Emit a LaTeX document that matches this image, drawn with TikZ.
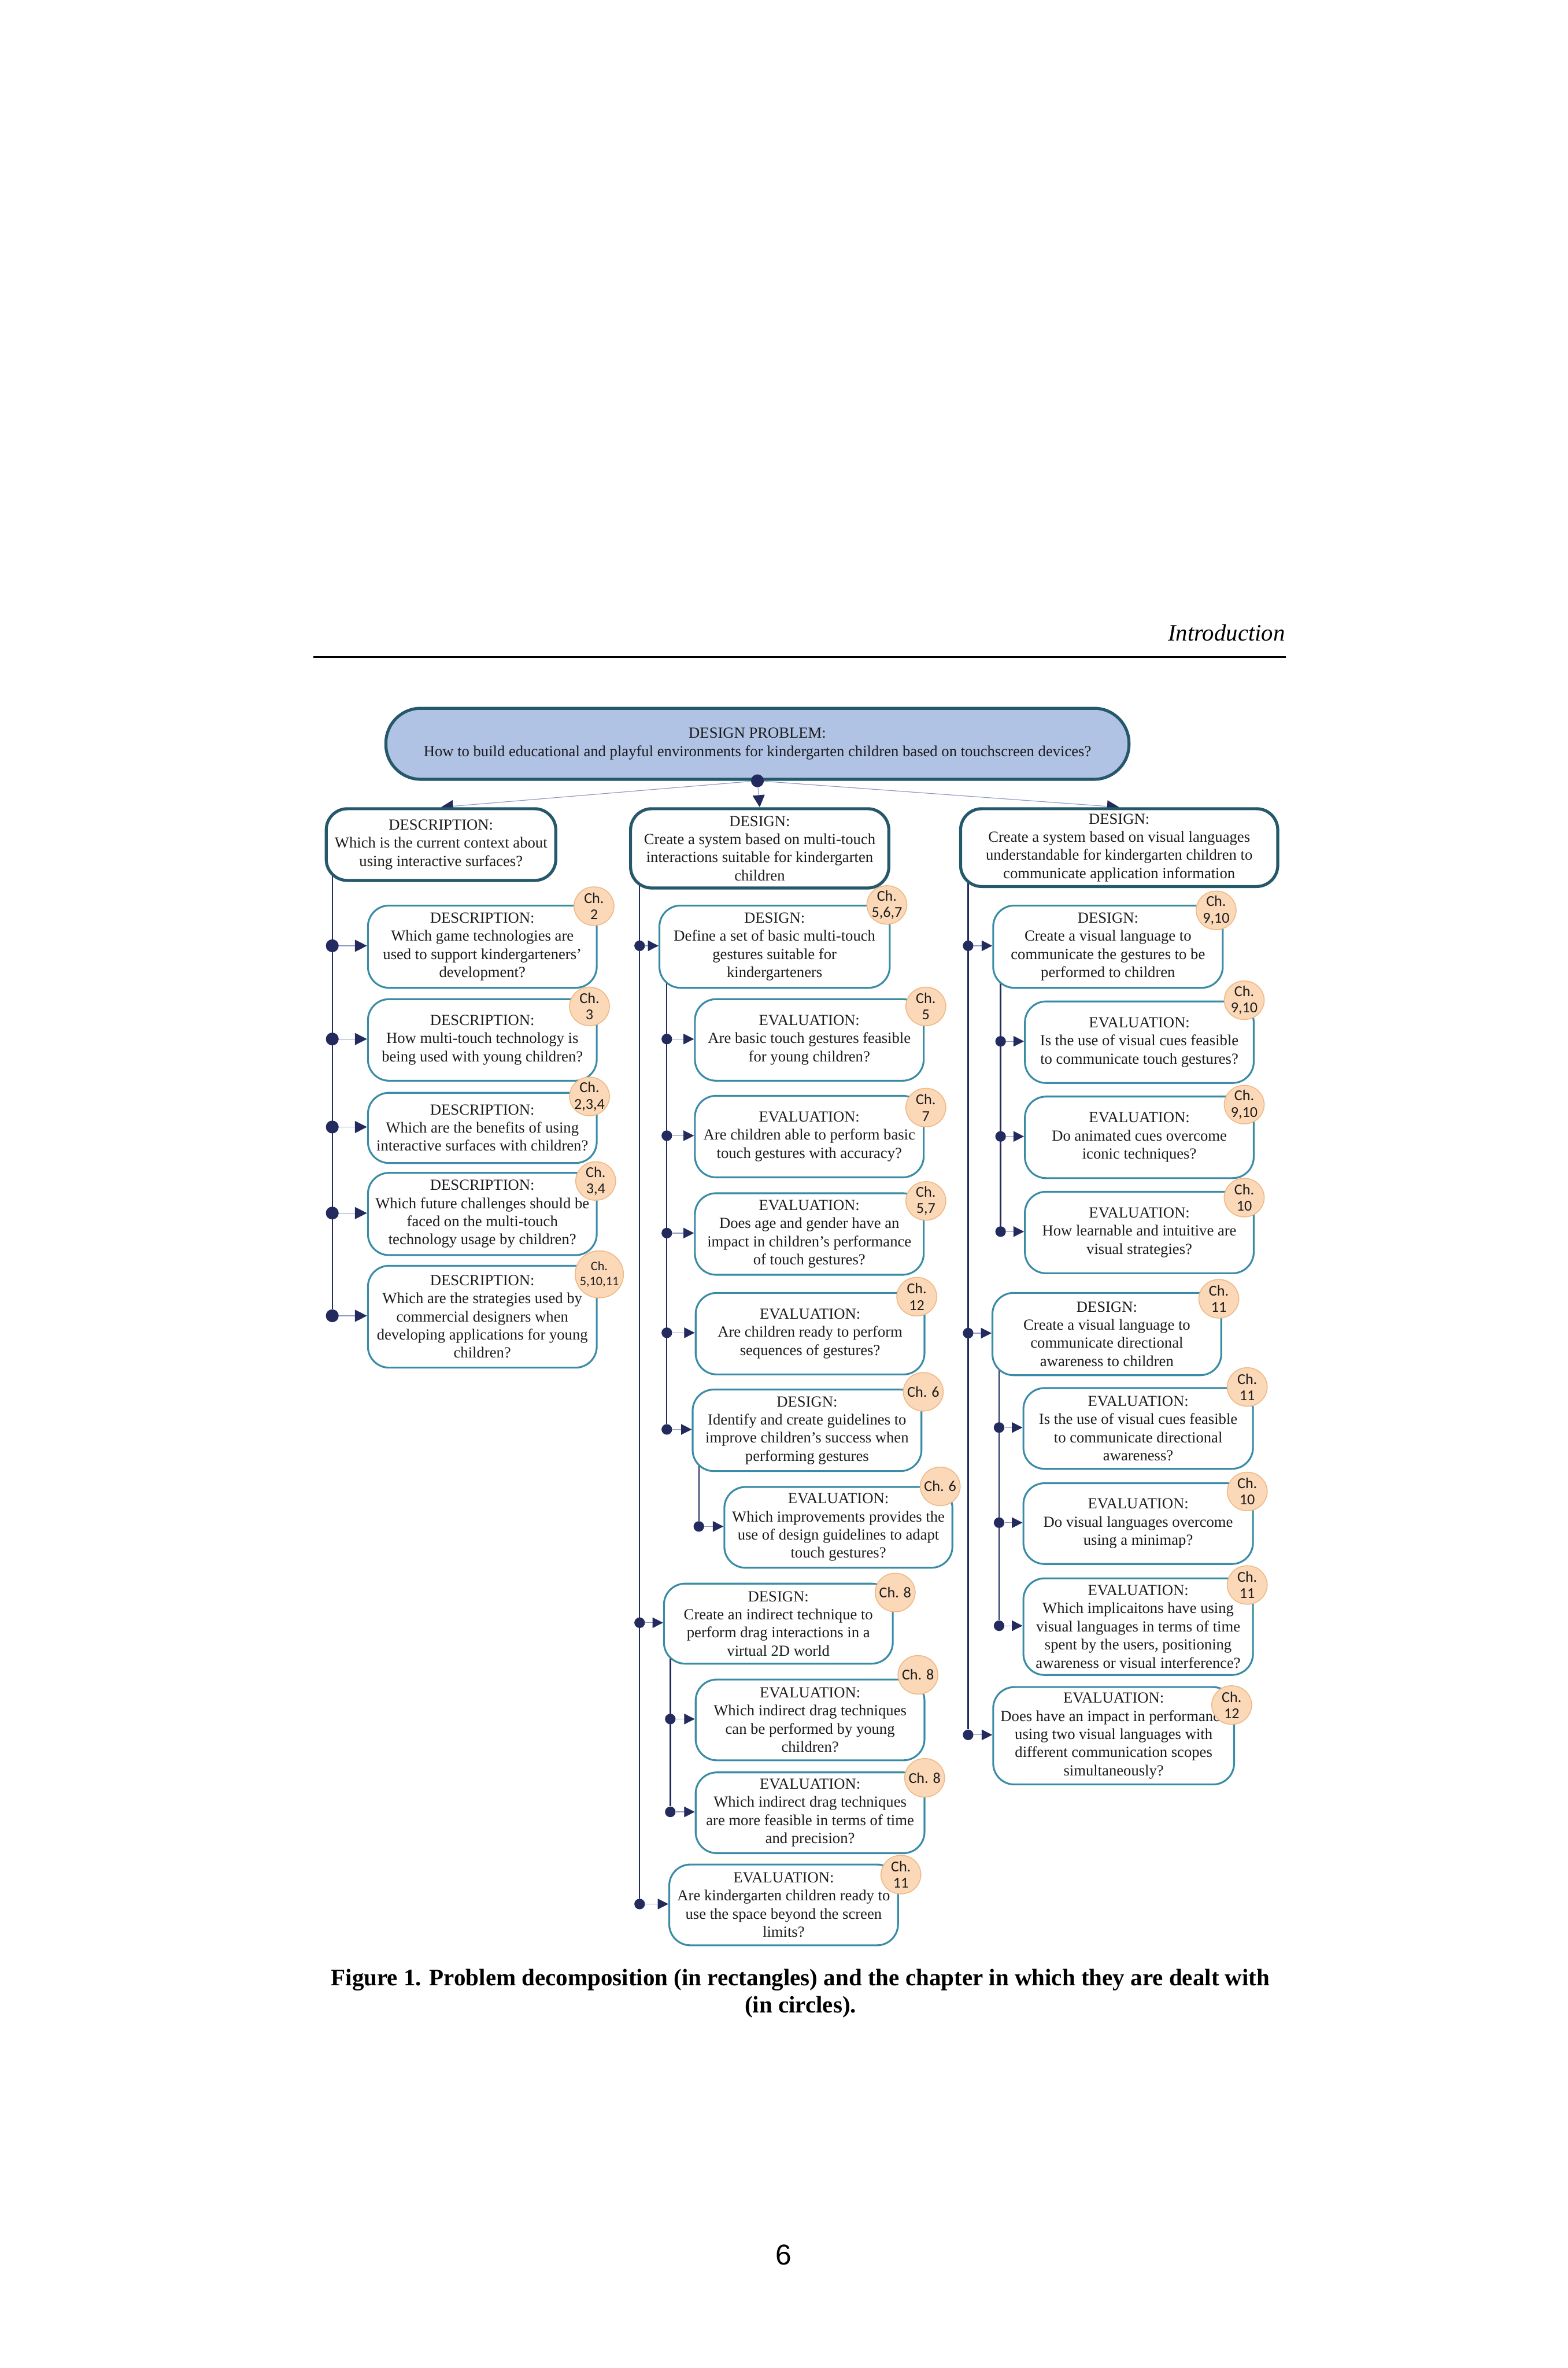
\documentclass[tikz,border=0pt]{standalone}
\usepackage{fontspec}
\setmainfont{Liberation Serif}
\setsansfont{Liberation Sans}
\newfontfamily\chapfont{Carlito}
\usepackage{tikz}
\usetikzlibrary{arrows.meta,backgrounds}
\definecolor{LinkNavy}{HTML}{232B5E}
\definecolor{LinkPale}{HTML}{8E99BE}
\definecolor{FrameDark}{HTML}{24586A}
\definecolor{FrameTeal}{HTML}{3A8BA6}
\definecolor{ProblemFill}{HTML}{B1C3E5}
\definecolor{ChapFill}{HTML}{FAD8B8}
\definecolor{ChapLine}{HTML}{F0B985}
\definecolor{TextDark}{HTML}{1C1C1C}

\begin{document}
\begin{tikzpicture}[x=1pt,y=-1pt,
    every node/.style={font=\fontsize{10.2}{12}\selectfont, text=TextDark},
    qbox/.style={draw=FrameTeal, line width=1.2pt, fill=white, rounded corners=14pt,
      align=center, inner sep=1pt, anchor=north west, minimum width=151.5pt, minimum height=54pt},
    mainbox/.style={qbox, draw=FrameDark, line width=2pt},
    chapter/.style={draw=ChapLine, line width=0.6pt, fill=ChapFill, rounded corners=13pt,
      minimum width=26.5pt, minimum height=25.5pt, inner sep=0pt, align=center,
      font=\chapfont\fontsize{10}{10.8}\selectfont},
    joint/.style={circle, fill=LinkNavy, inner sep=0pt, minimum size=7pt},
    trunk/.style={draw=LinkNavy, line width=0.9pt},
    branch/.style={draw=LinkPale, line width=0.45pt, -{Triangle[length=7pt,width=7pt,color=LinkNavy]}},
    toplink/.style={branch, -{Triangle[length=8pt,width=8pt,color=LinkNavy]}}]
  \useasboundingbox (0,0) rectangle (1038,1568);

  % page header
  \node[anchor=base east, inner sep=0pt, font=\itshape\fontsize{15.6}{18}\selectfont, text=black] (header) at (851,424.2) {Introduction};
  \draw[line width=1.2pt, black] (207.6,435) -- (851.4,435);

  % design problem and the three sub-problems
  \node[draw=FrameDark, line width=2pt, fill=ProblemFill, rounded corners=23pt, align=center, inner sep=1pt,
    anchor=north west, minimum width=492pt, minimum height=47pt] (problem) at (254.5,468)
    {DESIGN PROBLEM:\\How to build educational and playful environments for kindergarten children based on touchscreen devices?};
  \node[joint, minimum size=8.5pt] (problemj) at (problem.south) {};
  \node[mainbox, minimum width=152pt, minimum height=47.5pt] (context) at (215,534.5)
    {DESCRIPTION:\\Which is the current context about\\using interactive surfaces?};
  \node[mainbox, minimum width=171pt, minimum height=52.5pt] (touch) at (416.5,534.5)
    {DESIGN:\\Create a system based on multi-touch\\interactions suitable for kindergarten\\children};
  \node[mainbox, minimum width=210pt, minimum height=51.5pt] (visual) at (635,534.5)
    {DESIGN:\\Create a system based on visual languages\\understandable for kindergarten children to\\communicate application information};

  % left column
  \node[qbox, minimum height=54.5pt] (desc1) at (243,599) {DESCRIPTION:\\Which game technologies are\\used to support kindergarteners’\\development?};
  \node[qbox] (desc2) at (243,661) {DESCRIPTION:\\How multi-touch technology is\\being used with young children?};
  \node[qbox, minimum height=46.5pt] (desc3) at (243,723) {DESCRIPTION:\\Which are the benefits of using\\interactive surfaces with children?};
  \node[qbox, minimum height=54.5pt] (desc4) at (243,776) {DESCRIPTION:\\Which future challenges should be\\faced on the multi-touch\\technology usage by children?};
  \node[qbox, minimum height=67.5pt] (desc5) at (243,837.5) {DESCRIPTION:\\Which are the strategies used by\\commercial designers when\\developing applications for young\\children?};

  % centre column
  \node[qbox, minimum width=152.5pt, minimum height=54.5pt] (gest) at (436,599) {DESIGN:\\Define a set of basic multi-touch\\gestures suitable for\\kindergarteners};
  \node[qbox] (gest1) at (459.5,661) {EVALUATION:\\Are basic touch gestures feasible\\for young children?};
  \node[qbox] (gest2) at (459.5,725) {EVALUATION:\\Are children able to perform basic\\touch gestures with accuracy?};
  \node[qbox] (gest3) at (459.5,789.5) {EVALUATION:\\Does age and gender have an\\impact in children’s performance\\of touch gestures?};
  \node[qbox] (gest4) at (460,855.5) {EVALUATION:\\Are children ready to perform\\sequences of gestures?};
  \node[qbox] (guide) at (458,919.5) {DESIGN:\\Identify and create guidelines to\\improve children’s success when\\performing gestures};
  \node[qbox, minimum width=151pt, minimum height=53.5pt] (guide1) at (479,984) {EVALUATION:\\Which improvements provides the\\use of design guidelines to adapt\\touch gestures?};
  \node[qbox, minimum height=53pt] (drag) at (439,1048) {DESIGN:\\Create an indirect technique to\\perform drag interactions in a\\virtual 2D world};
  \node[qbox, minimum height=53.5pt] (drag1) at (460,1111.5) {EVALUATION:\\Which indirect drag techniques\\can be performed by young\\children?};
  \node[qbox, minimum height=53.5pt] (drag2) at (460,1173) {EVALUATION:\\Which indirect drag techniques\\are more feasible in terms of time\\and precision?};
  \node[qbox, minimum height=53.5pt] (beyond) at (442.5,1234) {EVALUATION:\\Are kindergarten children ready to\\use the space beyond the screen\\limits?};

  % right column
  \node[qbox, minimum width=152pt, minimum height=54.5pt] (cues) at (657,599) {DESIGN:\\Create a visual language to\\communicate the gestures to be\\performed to children};
  \node[qbox] (cues1) at (678,662.5) {EVALUATION:\\Is the use of visual cues feasible\\to communicate touch gestures?};
  \node[qbox] (cues2) at (678,725.5) {EVALUATION:\\Do animated cues overcome\\iconic techniques?};
  \node[qbox] (cues3) at (678,788.5) {EVALUATION:\\How learnable and intuitive are\\visual strategies?};
  \node[qbox, minimum height=54.5pt] (aware) at (656.5,855.5) {DESIGN:\\Create a visual language to\\communicate directional\\awareness to children};
  \node[qbox, minimum width=152pt, minimum height=53.5pt] (aware1) at (677,918.5) {EVALUATION:\\Is the use of visual cues feasible\\to communicate directional\\awareness?};
  \node[qbox, minimum width=152pt, minimum height=53.5pt] (aware2) at (677,981.5) {EVALUATION:\\Do visual languages overcome\\using a minimap?};
  \node[qbox, minimum width=152pt, minimum height=64pt] (aware3) at (677,1044.5) {EVALUATION:\\Which implicaitons have using\\visual languages in terms of time\\spent by the users, positioning\\awareness or visual interference?};
  \node[qbox, minimum width=159.5pt, minimum height=64.5pt] (scopes) at (657,1116.5) {EVALUATION:\\Does have an impact in performance\\using two visual languages with\\different communication scopes\\simultaneously?};

  % chapter circles
  \node[chapter] (desc1ch) at (393.3,600) {Ch.\\2};
  \node[chapter] (desc2ch) at (390.3,666.4) {Ch.\\3};
  \node[chapter] (desc3ch) at (390.3,726) {Ch.\\2,3,4};
  \node[chapter] (desc4ch) at (394.4,782) {Ch.\\3,4};
  \node[chapter, minimum width=32pt, minimum height=31pt, rounded corners=15.5pt, font=\chapfont\fontsize{8.5}{9.8}\selectfont] (desc5ch) at (396.8,843.8) {Ch.\\5,10,11};
  \node[chapter] (gestch) at (587.2,599.2) {Ch.\\5,6,7};
  \node[chapter] (gest1ch) at (613,666.4) {Ch.\\5};
  \node[chapter] (gest2ch) at (613,733.4) {Ch.\\7};
  \node[chapter] (gest3ch) at (613,795.2) {Ch.\\5,7};
  \node[chapter] (gest4ch) at (607,858.6) {Ch.\\12};
  \node[chapter] (guidech) at (611.3,921.6) {Ch. 6};
  \node[chapter] (guide1ch) at (622.5,984.2) {Ch. 6};
  \node[chapter] (dragch) at (592.7,1054.5) {Ch. 8};
  \node[chapter] (drag1ch) at (607.8,1109) {Ch. 8};
  \node[chapter] (drag2ch) at (612.2,1177.2) {Ch. 8};
  \node[chapter] (beyondch) at (596.5,1241.3) {Ch.\\11};
  \node[chapter] (cuesch) at (805.2,602.8) {Ch.\\9,10};
  \node[chapter] (cues1ch) at (823.8,662.3) {Ch.\\9,10};
  \node[chapter] (cues2ch) at (823.8,731.4) {Ch.\\9,10};
  \node[chapter] (cues3ch) at (823.8,793) {Ch.\\10};
  \node[chapter] (awarech) at (807,860) {Ch.\\11};
  \node[chapter] (aware1ch) at (825.8,918.4) {Ch.\\11};
  \node[chapter] (aware2ch) at (825.8,987.6) {Ch.\\10};
  \node[chapter] (aware3ch) at (825.8,1049.5) {Ch.\\11};
  \node[chapter] (scopesch) at (815.5,1129) {Ch.\\12};

  % joints on the trunks
  \node[joint, minimum size=8.5pt] (desc1j) at (220,626.25) {};
  \node[joint, minimum size=8.5pt] (desc2j) at (220,688) {};
  \node[joint, minimum size=8.5pt] (desc3j) at (220,746.25) {};
  \node[joint, minimum size=8.5pt] (desc4j) at (220,803.25) {};
  \node[joint, minimum size=8.5pt] (desc5j) at (220,871.25) {};
  \node[joint] (gestj) at (423.5,626.25) {};
  \node[joint] (gest1j) at (441.5,688) {};
  \node[joint] (gest2j) at (441.5,752) {};
  \node[joint] (gest3j) at (441.5,816.5) {};
  \node[joint] (gest4j) at (441.5,882.5) {};
  \node[joint] (guidej) at (441.5,946.5) {};
  \node[joint] (guide1j) at (462.7,1010.75) {};
  \node[joint] (dragj) at (423.5,1074.5) {};
  \node[joint] (drag1j) at (443.8,1138.25) {};
  \node[joint] (drag2j) at (443.8,1199.75) {};
  \node[joint] (beyondj) at (423.5,1260.75) {};
  \node[joint] (cuesj) at (641,626.25) {};
  \node[joint] (cues1j) at (662.5,689.5) {};
  \node[joint] (cues2j) at (662.5,752.5) {};
  \node[joint] (cues3j) at (662.5,815.5) {};
  \node[joint] (awarej) at (641,882.75) {};
  \node[joint] (aware1j) at (661.5,945.25) {};
  \node[joint] (aware2j) at (661.5,1008.25) {};
  \node[joint] (aware3j) at (661.5,1076.5) {};
  \node[joint] (scopesj) at (641,1148.75) {};

  % caption and page number
  \node[align=center, inner sep=0pt, font=\bfseries\fontsize{15.7}{18}\selectfont, text=black] (caption) at (530,1320)
    {Figure 1. Problem decomposition (in rectangles) and the chapter in which they are dealt with\\(in circles).};
  \node[font=\sffamily\fontsize{19}{22}\selectfont, text=black] (pagenum) at (519,1493) {6};

  \begin{scope}[on background layer]
    \fill[white] (0,0) rectangle (1038,1568);
    \draw[toplink] (problemj) -- (context.north);
    \draw[toplink] (problemj) -- (touch.north);
    \draw[toplink] (problemj) -- (visual.north);
    % trunks
    \draw[trunk] ([yshift=4pt]context.south -| desc1j) -- (desc5j);
    \draw[trunk] ([yshift=4pt]touch.south -| gestj) -- (beyondj);
    \draw[trunk] ([yshift=4pt]gest.south -| gest1j) -- (guidej);
    \draw[trunk] ([yshift=4pt]guide.south -| guide1j) -- (guide1j);
    \draw[trunk] ([yshift=4pt]drag.south -| drag1j) -- (drag2j);
    \draw[trunk] ([yshift=4pt]visual.south -| cuesj) -- (scopesj);
    \draw[trunk] ([yshift=4pt]cues.south -| cues1j) -- (cues3j);
    \draw[trunk] ([yshift=4pt]aware.south -| aware1j) -- (aware3j);
    % branches
    \draw[branch, -{Triangle[length=8pt,width=8pt,color=LinkNavy]}] (desc1j) -- (desc1j -| desc1.west);
    \draw[branch, -{Triangle[length=8pt,width=8pt,color=LinkNavy]}] (desc2j) -- (desc2j -| desc2.west);
    \draw[branch, -{Triangle[length=8pt,width=8pt,color=LinkNavy]}] (desc3j) -- (desc3j -| desc3.west);
    \draw[branch, -{Triangle[length=8pt,width=8pt,color=LinkNavy]}] (desc4j) -- (desc4j -| desc4.west);
    \draw[branch, -{Triangle[length=8pt,width=8pt,color=LinkNavy]}] (desc5j) -- (desc5j -| desc5.west);
    \draw[branch] (gestj) -- (gestj -| gest.west);
    \draw[branch] (gest1j) -- (gest1j -| gest1.west);
    \draw[branch] (gest2j) -- (gest2j -| gest2.west);
    \draw[branch] (gest3j) -- (gest3j -| gest3.west);
    \draw[branch] (gest4j) -- (gest4j -| gest4.west);
    \draw[branch] (guidej) -- (guidej -| guide.west);
    \draw[branch] (guide1j) -- (guide1j -| guide1.west);
    \draw[branch] (dragj) -- (dragj -| drag.west);
    \draw[branch] (drag1j) -- (drag1j -| drag1.west);
    \draw[branch] (drag2j) -- (drag2j -| drag2.west);
    \draw[branch] (beyondj) -- (beyondj -| beyond.west);
    \draw[branch] (cuesj) -- (cuesj -| cues.west);
    \draw[branch] (cues1j) -- (cues1j -| cues1.west);
    \draw[branch] (cues2j) -- (cues2j -| cues2.west);
    \draw[branch] (cues3j) -- (cues3j -| cues3.west);
    \draw[branch] (awarej) -- (awarej -| aware.west);
    \draw[branch] (aware1j) -- (aware1j -| aware1.west);
    \draw[branch] (aware2j) -- (aware2j -| aware2.west);
    \draw[branch] (aware3j) -- (aware3j -| aware3.west);
    \draw[branch] (scopesj) -- (scopesj -| scopes.west);
  \end{scope}
\end{tikzpicture}
\end{document}
